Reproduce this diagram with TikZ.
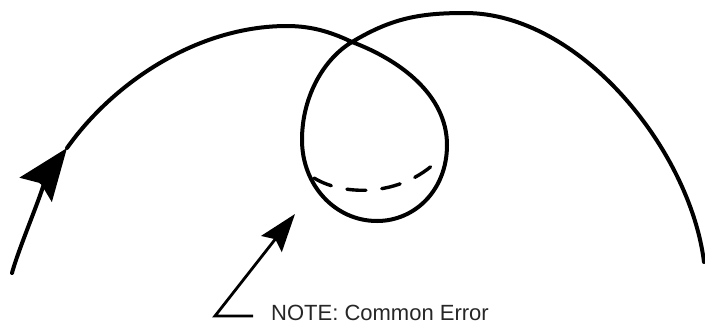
\documentclass[tikz,border=0pt]{standalone}
\usepackage{fontspec}
\setmainfont{Liberation Sans}
\usetikzlibrary{arrows.meta,positioning}

\begin{document}
\begin{tikzpicture}[x=1pt, y=-1pt,
  path/.style={line width=4pt, line cap=round, line join=round},
  altpath/.style={line width=3.4pt, dash pattern=on 19pt off 16pt, line cap=round},
  bigarr/.style={-{Stealth[length=52pt, width=40pt, inset=8pt]}},
  leader/.style={line width=2.8pt, -{Stealth[length=38pt, width=26pt, inset=6pt]}},
  notetext/.style={font=\fontsize{22pt}{24pt}\selectfont, text=black!85, inner sep=0pt}
]
\useasboundingbox (0,0) rectangle (705,325);

%% ---- MAIN PATH: rise, loop, fall ----
\coordinate (start)  at (12,273);
\coordinate (arrtip) at (67,148);
\coordinate (peak)   at (287,26);
\coordinate (cross)  at (352,42);
\coordinate (loopR)  at (447,145);
\coordinate (loopB)  at (377,221);
\coordinate (loopL)  at (302,140);
\coordinate (top)    at (465,13);
\coordinate (finish) at (704,262);

\draw[path, bigarr] (start) .. controls (20,243) and (55,164) .. (arrtip);
\draw[path] (arrtip) .. controls (113,83) and (197,26) .. (peak)
     .. controls (315,26) and (335,34) .. (cross)
     .. controls (400,60) and (447,95) .. (loopR)
     .. controls (447,190) and (415,221) .. (loopB)
     .. controls (335,221) and (302,185) .. (loopL)
     .. controls (302,95) and (325,58) .. (cross)
     .. controls (392,18) and (420,13) .. (top)
     .. controls (580,13) and (690,150) .. (finish);

%% ---- DASHED: the path that should have been taken ----
\coordinate (altA) at (314,178);
\coordinate (altB) at (442,156);
\draw[altpath] (altA) .. controls (345,197) and (405,197) .. (altB);

%% ---- NOTE ----
\node[notetext, anchor=base west] (note) at (271,320) {NOTE: Common Error};
\coordinate (lead)   at (253,316);
\coordinate (corner) at (215,316);
\coordinate (ptip)   at (295,214);
\draw[leader, line join=miter] (lead) -- (corner) -- (ptip);

\end{tikzpicture}
\end{document}
